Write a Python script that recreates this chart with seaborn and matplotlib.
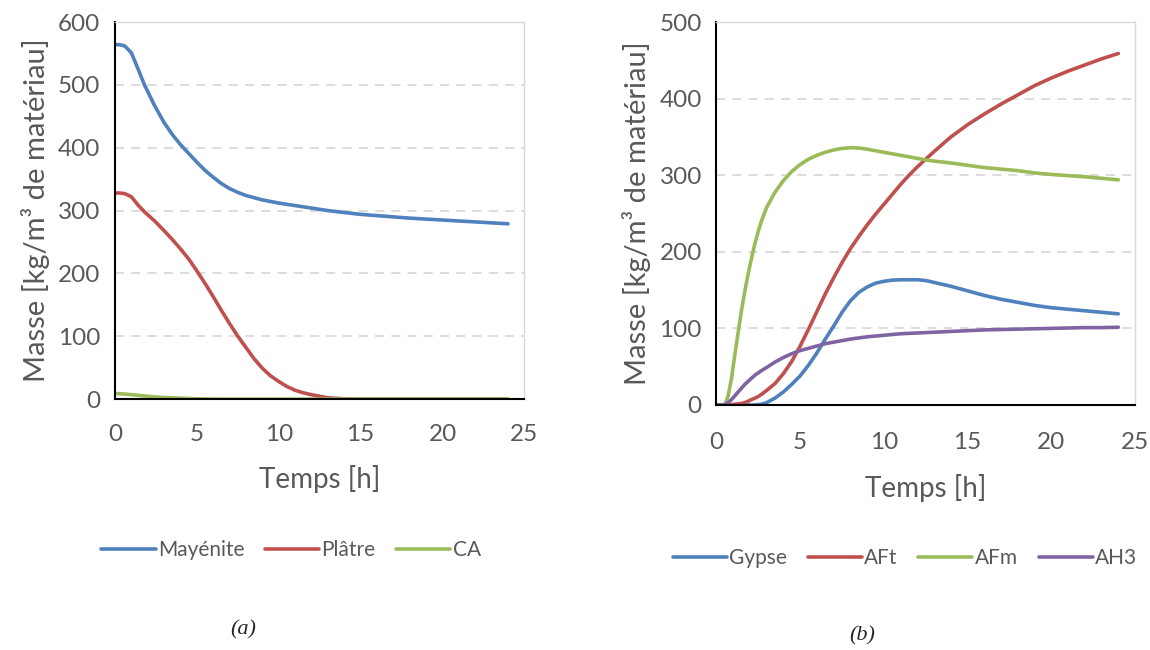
import pandas as pd
import matplotlib.pyplot as plt
import seaborn as sns

# Panel (a) - consommation des réactifs
temps_a = [0, 0.3, 0.6, 1.0, 1.4, 1.8, 2.4, 3, 3.5, 4, 4.5, 5, 5.5, 6, 6.5, 7, 7.5, 8, 8.5, 9,
           9.5, 10, 10.5, 11, 11.5, 12, 13, 14, 15, 16, 18, 20, 22, 24]
mayenite = [564, 564, 562, 551, 526, 500, 468, 440, 421, 405, 391, 377, 364, 353, 343, 335, 329, 324,
            320.5, 317, 314.5, 312, 310, 308, 306, 304, 300, 297, 294, 292, 288, 285, 282, 279]
platre = [328, 328, 327, 322, 309, 298, 284, 268, 254, 239, 223, 204, 184, 163, 141, 120, 100, 82,
          64, 49, 37, 28, 20, 14, 10, 7, 2, 0.5, 0, 0, 0, 0, 0, 0]
ca = [9, 8.5, 8, 7, 6, 5, 3.5, 2.5, 2, 1.5, 1, 0.5, 0.3, 0, 0, 0, 0, 0,
      0, 0, 0, 0, 0, 0, 0, 0, 0, 0, 0, 0, 0, 0, 0, 0]

# Panel (b) - formation des hydrates
temps_b = [0, 0.3, 0.5, 0.7, 0.9, 1.1, 1.3, 1.5, 1.7, 1.9, 2.1, 2.3, 2.5, 2.7, 3, 3.5, 4, 4.5, 5, 5.5,
           6, 6.5, 7, 7.5, 8, 8.5, 9, 9.5, 10, 10.5, 11, 11.5, 12, 12.5, 13, 14, 15, 16, 17, 18,
           19, 20, 21, 22, 23, 24]
gypse = [0, 0, 0, 0, 0, 0, 0, 0, 0, 0, 0, 0, 0.5, 1, 3, 9, 17, 27, 38, 52,
         68, 86, 103, 121, 136, 147, 154, 159, 161.5, 163, 163.5, 163.5, 163.5, 162.5, 160, 155, 149, 143, 138, 134,
         130, 127, 125, 123, 121, 119]
aft = [0, 0, 0, 0, 0.5, 1, 1.5, 2, 3, 5, 7, 9, 11, 14, 19, 28, 41, 57, 77, 99,
       122, 145, 166, 186, 204, 220, 235, 249, 262, 275, 288, 300, 311, 321, 331, 350, 366, 380, 393, 405,
       417, 427, 436, 444, 452, 459]
afm = [0, 0, 0, 12, 35, 66, 95, 124, 149, 172, 192, 211, 227, 241, 258, 278, 293, 305, 314, 321,
       326, 330, 333, 335, 336, 335.5, 334, 332, 330, 328, 326, 324, 322, 320, 318.5, 316, 313, 310, 308, 306,
       303, 301, 299.5, 298, 296, 294]
ah3 = [0, 0, 0.5, 3, 7, 12, 17, 22, 27, 31, 35, 39, 42, 45, 49, 56, 62, 67, 71, 74,
       77, 80, 82, 84, 86, 87.5, 89, 90, 91, 92, 93, 93.5, 94, 94.5, 95, 96, 97, 98, 98.5, 99,
       99.5, 100, 100.5, 101, 101, 101.5]

noms_a = ['Mayénite', 'Plâtre', 'CA']
noms_b = ['Gypse', 'AFt', 'AFm', 'AH3']
couleurs_a = ['#4F81BD', '#C0504D', '#9BBB59']
couleurs_b = ['#4F81BD', '#C0504D', '#9BBB59', '#8064A2']

df_a = pd.concat([pd.DataFrame({'Temps': temps_a, 'Masse': v, 'Phase': n})
                  for n, v in zip(noms_a, [mayenite, platre, ca])])
df_b = pd.concat([pd.DataFrame({'Temps': temps_b, 'Masse': v, 'Phase': n})
                  for n, v in zip(noms_b, [gypse, aft, afm, ah3])])

sns.set_style("white")
plt.rcParams['font.family'] = ['Lato', 'DejaVu Sans']

gris = '#595959'
fig = plt.figure(figsize=(11.5, 6.5), dpi=100)
ax1 = fig.add_axes([0.100, 0.386, 0.356, 0.580])
ax2 = fig.add_axes([0.623, 0.377, 0.364, 0.589])


def habiller(ax, ymax, pad_x, pad_label):
    ax.set_xlim(0, 25)
    ax.set_ylim(0, ymax)
    ax.set_xticks(range(0, 26, 5))
    ax.set_yticks(range(0, ymax + 1, 100))
    ax.yaxis.grid(True, color='#D9D9D9', linestyle=(0, (5, 4)), linewidth=1.3)
    ax.xaxis.grid(False)
    for c in ['top', 'right']:
        ax.spines[c].set_color('#D9D9D9')
        ax.spines[c].set_linewidth(1)
    for c in ['left', 'bottom']:
        ax.spines[c].set_color('black')
        ax.spines[c].set_linewidth(1.5)
    ax.tick_params(axis='both', direction='out', length=7, width=1.5, color='black',
                   labelcolor=gris, labelsize=17.5)
    ax.tick_params(axis='x', pad=pad_x)
    ax.set_xlabel('Temps [h]', fontsize=20, color=gris, labelpad=pad_label)
    ax.set_ylabel('Masse [kg/m³ de matériau]', fontsize=21, color=gris, labelpad=6)


sns.lineplot(data=df_a, x='Temps', y='Masse', hue='Phase', palette=couleurs_a,
             linewidth=2.6, ax=ax1)
habiller(ax1, 600, 11, 14)
ax1.legend(loc='center', bbox_to_anchor=(0.43, -0.40), ncol=3, frameon=False,
           fontsize=15, labelcolor=gris, handlelength=2.6, handletextpad=0.1, columnspacing=1.0)

sns.lineplot(data=df_b, x='Temps', y='Masse', hue='Phase', palette=couleurs_b,
             linewidth=2.6, ax=ax2)
habiller(ax2, 500, 12.5, 15)
ax2.legend(loc='center', bbox_to_anchor=(0.45, -0.40), ncol=4, frameon=False,
           fontsize=15, labelcolor=gris, handlelength=2.6, handletextpad=0.1, columnspacing=1.0)

fig.text(243 / 1150, 1 - 630 / 650, '(a)', fontsize=16, style='italic',
         family='Liberation Serif', ha='center', va='center')
fig.text(862 / 1150, 1 - 636 / 650, '(b)', fontsize=16, style='italic',
         family='Liberation Serif', ha='center', va='center')

fig.savefig('out.png', dpi=100)
